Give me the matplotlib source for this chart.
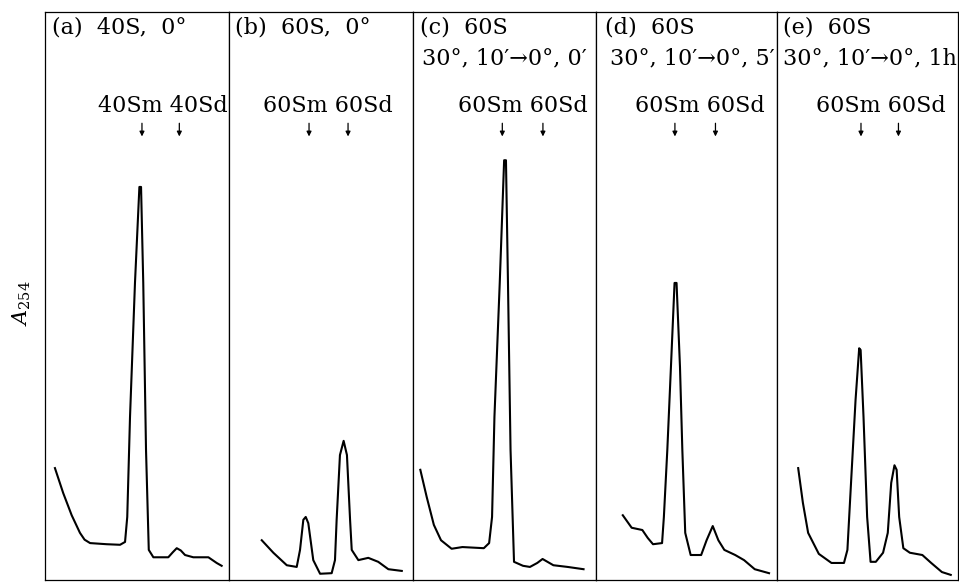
import numpy as np
import matplotlib.pyplot as plt

# perfis de sedimentacao (posicao relativa no painel, A254 em unidades arbitrarias)
x_a = [5.4, 9.9, 14.5, 19.0, 21.5, 24.5, 33.5, 40.8, 43.5, 44.7, 46.2, 48.9, 51.3, 52.2, 53.4, 54.9, 56.4,
       58.9, 67.0, 69.5, 71.6, 73.8, 76.1, 80.6, 88.8, 93.3, 96.0]
y_a = [19.7, 15.3, 11.4, 8.3, 7.1, 6.5, 6.3, 6.2, 6.7, 11.1, 28.7, 52.3, 69.2, 69.2, 52.3, 22.9, 5.3,
       4.0, 4.0, 4.9, 5.6, 5.2, 4.4, 4.0, 4.0, 3.0, 2.5]

x_b = [17.8, 24.1, 31.4, 36.8, 38.6, 40.4, 41.7, 43.1, 45.8, 49.5, 55.8, 57.6, 58.5, 60.3, 62.3,
       64.1, 65.8, 66.7, 70.3, 75.7, 81.1, 86.6, 93.9]
y_b = [7.0, 4.8, 2.6, 2.3, 5.3, 10.6, 11.1, 10.0, 3.5, 1.1, 1.2, 3.5, 10.6, 22.0, 24.5,
       22.0, 10.6, 5.3, 3.5, 3.9, 3.2, 1.9, 1.6]

x_c = [4.0, 7.5, 11.4, 15.3, 21.1, 27.0, 38.7, 41.6, 43.2, 44.5, 47.4, 49.8, 50.8, 51.9, 53.3,
       55.2, 60.1, 63.9, 67.9, 70.8, 76.7, 84.5, 93.2]
y_c = [19.4, 14.6, 9.7, 7.0, 5.5, 5.8, 5.6, 6.5, 11.1, 28.7, 52.3, 73.9, 73.9, 52.3, 22.9,
       3.2, 2.5, 2.3, 3.0, 3.7, 2.6, 2.3, 1.9]

x_d = [14.8, 19.7, 25.6, 28.6, 31.5, 36.5, 37.5, 39.4, 41.4, 43.4, 44.5, 46.4, 47.7, 49.3, 52.3,
       58.1, 61.1, 64.5, 67.6, 70.9, 76.9, 81.8, 87.7, 95.6]
y_d = [11.4, 9.2, 8.8, 7.4, 6.3, 6.5, 11.1, 22.9, 37.5, 52.3, 52.3, 37.5, 22.9, 8.3, 4.4,
       4.4, 7.0, 9.5, 7.0, 5.3, 4.4, 3.5, 1.9, 1.2]

x_e = [11.7, 14.3, 17.2, 23.1, 30.1, 37.0, 38.9, 40.9, 43.4, 45.4, 46.2, 47.8, 49.8, 51.7, 54.6,
       58.6, 61.2, 63.1, 64.9, 66.1, 67.5, 69.8, 73.4, 80.3, 85.2, 91.1, 96.0]
y_e = [19.7, 13.6, 8.3, 4.6, 3.0, 3.0, 5.3, 17.1, 31.7, 40.8, 40.5, 28.7, 11.1, 3.2, 3.2,
       4.8, 8.3, 17.1, 20.2, 19.4, 11.1, 5.6, 4.8, 4.4, 3.0, 1.4, 0.9]

curves = [(x_a, y_a), (x_b, y_b), (x_c, y_c), (x_d, y_d), (x_e, y_e)]

titulos = ['(a)  40S,  0°', '(b)  60S,  0°', '(c)  60S', '(d)  60S', '(e)  60S']
subtitulos = ['', '', '30°, 10′→0°, 0′', '30°, 10′→0°, 5′', '30°, 10′→0°, 1h']
marcadores = ['40Sm 40Sd', '60Sm 60Sd', '60Sm 60Sd', '60Sm 60Sd', '60Sm 60Sd']

# posicoes das setas (monomero / dimero)
sm_pos = [52.7, 43.5, 48.8, 43.6, 46.4]
sd_pos = [73.0, 64.7, 71.0, 66.0, 67.1]

plt.rcParams['font.family'] = 'DejaVu Serif'
plt.rcParams['mathtext.fontset'] = 'dejavuserif'

W, H = 959, 583
fig = plt.figure(figsize=(W / 100, H / 100), dpi=100)

bordas = [45, 229, 413, 596, 777, 958]
tit_x = [3.8, 3.3, 3.8, 5.0, 3.3]
sub_x = [0, 0, 4.9, 7.7, 3.3]
lab_x = [64.1, 53.8, 60.1, 57.5, 57.5]

for i in range(5):
    l, r = bordas[i], bordas[i + 1]
    ax = fig.add_axes([l / W, 3 / H, (r - l) / W, 568 / H])
    ax.set_xlim(0, 100)
    ax.set_ylim(0, 100)
    ax.set_xticks([])
    ax.set_yticks([])
    for s in ax.spines.values():
        s.set_linewidth(0.9)
    x, y = curves[i]
    ax.plot(x, y, color='black', lw=1.5, solid_joinstyle='round')
    ax.text(tit_x[i], 97.3, titulos[i], fontsize=16, va='center', ha='left')
    if subtitulos[i]:
        ax.text(sub_x[i], 91.8, subtitulos[i], fontsize=16, va='center', ha='left')
    ax.text(lab_x[i], 83.4, marcadores[i], fontsize=16, va='center', ha='center')
    for xp in (sm_pos[i], sd_pos[i]):
        ax.annotate('', xy=(xp, 77.6), xytext=(xp, 80.9),
                    arrowprops=dict(arrowstyle='-|>', lw=0.9, mutation_scale=7, color='black'))

fig.text(22 / W, 1 - 303 / H, r'$A_{254}$', rotation=90, fontsize=15, ha='center', va='center')

fig.savefig('out.png', dpi=100)
